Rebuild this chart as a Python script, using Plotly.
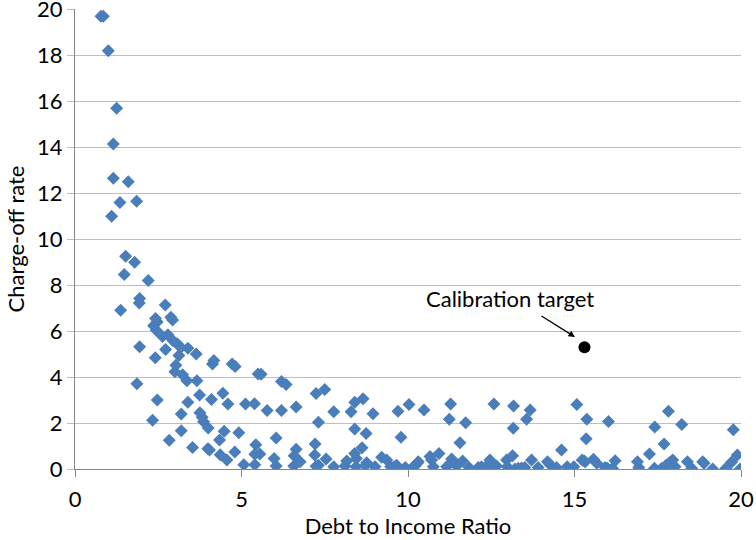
import plotly.graph_objects as go

dti = [0.78, 0.85, 1.0, 1.25, 1.15, 1.15, 1.6, 1.35, 1.85, 1.1,
       1.52, 1.79, 1.48, 2.2, 1.94, 1.93, 2.71, 1.37, 2.42, 2.47, 2.88, 2.93, 2.36, 2.44,
       2.63, 2.79, 2.95, 3.07, 3.18, 3.39, 1.94, 2.72, 3.12, 3.64, 2.41, 4.17, 4.13, 4.72,
       4.81, 3.03, 3.0, 3.23, 3.36, 3.66, 1.86, 3.74, 4.44, 4.1, 4.59, 5.12, 2.47, 3.39,
       3.19, 3.75, 3.82, 3.86, 2.33, 4.0, 3.19, 4.48, 4.92, 4.34, 2.83, 3.53, 3.99, 4.04,
       4.36, 4.8, 4.56, 5.07,
       5.5, 5.59, 5.39, 5.77, 6.2, 6.34, 6.2, 6.64, 7.24, 7.5, 7.31, 7.77, 8.29, 8.4, 8.65,
       8.95, 9.7, 10.03, 8.4, 8.74, 9.79, 6.04, 5.43, 5.4, 5.55, 6.64, 6.58, 7.21, 7.2,
       8.62, 8.4, 8.45, 7.54, 6.76, 5.98, 6.04, 5.4, 6.57, 7.24, 7.31, 7.77, 8.11, 8.16,
       8.44, 8.72, 8.76, 9.01, 9.21, 9.36, 9.48, 9.58, 9.66, 9.92, 10.16, 10.29,
       10.48, 11.28, 11.24, 11.73, 11.56, 12.58, 13.17, 13.67, 13.56, 13.16, 15.07, 15.37,
       15.35, 14.61, 10.93, 10.66, 10.71, 10.31, 10.21, 10.76, 11.16, 11.31, 11.38, 11.46,
       11.64, 11.83, 12.11, 12.21, 12.46, 12.41, 12.51, 12.66, 12.96, 12.98, 13.14, 13.21,
       13.31, 13.41, 13.51, 13.71, 13.91, 14.19, 14.26, 14.46, 14.78, 14.98, 15.23, 15.32,
       16.02, 15.29, 15.57, 15.67, 15.92, 15.99, 16.14, 16.22, 16.89, 16.93, 17.25, 17.41,
       17.4, 17.69, 17.82, 17.62, 17.75, 17.85, 17.95, 18.02, 18.22, 18.39, 18.52, 18.85,
       18.89, 19.15, 19.55, 19.72, 19.89, 19.97, 19.77]

rate = [19.7, 19.7, 18.2, 15.7, 14.15, 12.65, 12.5, 11.6, 11.65, 11.0,
        9.26, 9.0, 8.46, 8.2, 7.42, 7.23, 7.14, 6.91, 6.55, 6.4, 6.6, 6.48, 6.23, 6.04,
        5.77, 5.84, 5.57, 5.45, 5.29, 5.25, 5.32, 5.2, 4.94, 5.0, 4.84, 4.72, 4.57, 4.57,
        4.46, 4.52, 4.23, 4.1, 3.84, 3.84, 3.71, 3.22, 3.3, 3.03, 2.83, 2.83, 3.0, 2.91,
        2.39, 2.45, 2.25, 2.06, 2.12, 1.78, 1.67, 1.64, 1.58, 1.26, 1.25, 0.94, 0.88, 0.83,
        0.62, 0.74, 0.39, 0.19,
        4.14, 4.12, 2.84, 2.55, 3.81, 3.68, 2.55, 2.7, 3.29, 3.46, 2.04, 2.49, 2.49, 2.9, 3.06,
        2.4, 2.51, 2.81, 1.74, 1.55, 1.38, 1.35, 1.06, 0.64, 0.65, 0.86, 0.58, 1.09, 0.61,
        0.93, 0.68, 0.46, 0.43, 0.32, 0.46, 0.13, 0.19, 0.13, 0.12, 0.16, 0.1, 0.13, 0.35,
        0.1, 0.14, 0.27, 0.1, 0.51, 0.39, 0.1, 0.1, 0.16, 0.07, 0.1, 0.27,
        2.57, 2.83, 2.16, 2.01, 1.14, 2.83, 2.74, 2.57, 2.16, 1.77, 2.81, 2.16,
        1.32, 0.83, 0.68, 0.54, 0.39, 0.32, 0.13, 0.1, 0.1, 0.43, 0.32, 0.13,
        0.35, 0.07, 0.07, 0.1, 0.39, 0.2, 0.1, 0.13, 0.39, 0.1, 0.58, 0.0,
        0.03, 0.04, 0.07, 0.39, 0.07, 0.32, 0.2, 0.07, 0.1, 0.1, 0.39, 0.32,
        2.07, 0.35, 0.42, 0.25, 0.07, 0.03, 0.03, 0.36, 0.32, 0.06, 0.65, 1.83,
        0.03, 1.09, 2.51, 0.03, 0.16, 0.27, 0.39, 0.1, 1.94, 0.32, 0.03, 0.32,
        0.25, 0.0, 0.03, 0.3, 0.61, 0.0, 1.71]

target_x = [15.3]
target_y = [5.3]
x_ticks = [0, 5, 10, 15, 20]
y_ticks = [0, 2, 4, 6, 8, 10, 12, 14, 16, 18, 20]

FONT = "Lato, 'Open Sans', sans-serif"
FS = 22

fig = go.Figure()
fig.add_trace(go.Scatter(
    x=dti, y=rate, mode="markers",
    marker=dict(symbol="diamond", size=10, color="#4A7EBB", line=dict(width=0)),
    showlegend=False, hoverinfo="x+y"))
fig.add_trace(go.Scatter(
    x=target_x, y=target_y, mode="markers",
    marker=dict(symbol="circle", size=12, color="black"),
    showlegend=False))

fig.update_layout(
    width=756, height=540,
    margin=dict(l=75, r=15, t=9, b=71),
    paper_bgcolor="white", plot_bgcolor="white",
    font=dict(family=FONT, size=FS, color="black"),
    xaxis=dict(range=[0, 20], tickvals=x_ticks, showgrid=False, zeroline=False,
               showline=True, linecolor="#868686", linewidth=1,
               ticks="outside", ticklen=7, tickcolor="#868686",
               automargin=False, ticklabeloverflow="allow", ticklabelstandoff=4,
               title=dict(text="Debt to Income Ratio", font=dict(size=FS), standoff=6),
               tickfont=dict(size=FS)),
    yaxis=dict(range=[0, 20.02], tickvals=y_ticks, showgrid=True, gridcolor="#BEBEBE",
               gridwidth=1.3, zeroline=False,
               showline=True, linecolor="#868686", linewidth=1,
               ticks="outside", ticklen=7, tickcolor="#BEBEBE",
               automargin=False, ticklabeloverflow="allow",
               title=dict(text="Charge-off rate", font=dict(size=FS), standoff=6),
               tickfont=dict(size=FS)),
)

# convert pixel positions of the label/arrow into paper coords
pw, ph = 756 - 75 - 15, 540 - 9 - 71
def px(xp):
    return (xp - 75) / pw
def py(yp):
    return (540 - 71 - yp) / ph

fig.add_annotation(x=px(510), y=py(298), xref="paper", yref="paper",
                   text="Calibration target", showarrow=False,
                   font=dict(family=FONT, size=FS, color="black"))
fig.add_annotation(x=px(575), y=py(337), xref="paper", yref="paper",
                   ax=-35, ay=-22, axref="pixel", ayref="pixel",
                   text="", showarrow=True, arrowhead=2, arrowsize=1.0,
                   arrowwidth=1.3, arrowcolor="black")

fig.write_html("out.html", config={"displayModeBar": False},
               post_script="document.body.style.margin='0';")
